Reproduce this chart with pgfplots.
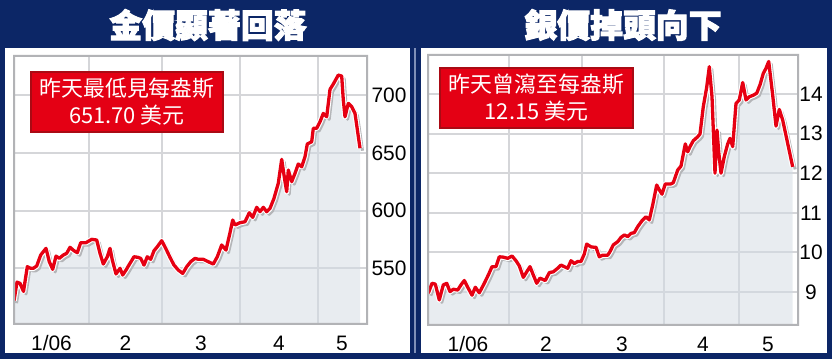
\documentclass[border=0pt]{standalone}
\usepackage{fontspec}
\setmainfont{Liberation Sans}
\newfontfamily\cjk{Noto Sans CJK TC}
\newfontfamily\cjkb{Noto Sans CJK TC}[BoldFeatures={FakeBold=3}]
\usepackage{pgfplots}
\usepackage{pgfplotstable}
\pgfplotsset{compat=1.18}
\definecolor{navy}{RGB}{12,38,102}
\definecolor{linered}{RGB}{230,0,18}
\definecolor{boxred}{RGB}{228,0,20}
\definecolor{boxdark}{RGB}{170,10,20}
\definecolor{framegray}{HTML}{B2B3B6}
\definecolor{gridgray}{HTML}{D5D6D9}
\definecolor{fillc}{RGB}{211,219,227}
\definecolor{shadowgray}{HTML}{B4B5B8}
\definecolor{divider}{HTML}{7F8FB8}

\pgfplotstableread{
x y
14 522
17 538
20 537
23.5 530
27.3 551.4
30.7 550.0
33.3 550.0
36.7 552.0
40.7 561.5
46 567.3
49.3 555.7
52.7 549.1
56 560.6
59.3 558.6
63.3 561.5
66.7 563.0
70 568.2
74 565.2
77.3 563.5
80.7 572.2
86 572.2
91.7 575.1
96.7 574.5
100 563.0
103.3 553.7
107.3 560.0
110 567.3
112.3 557.2
116 545.1
120 550.0
122.7 544.2
126 548.5
130 554.3
134 560.0
138 559.5
140.7 558.6
144 552.8
147.3 560.0
150.7 557.8
154 565.2
157.3 568.7
161.7 573.9
165.7 567.3
170 559.5
174 552.8
178.3 548.5
182.7 545.6
186.7 551.4
190.7 555.7
195 558.6
198.3 557.8
203.3 557.8
208.3 555.7
213.3 553.7
217.3 560.0
221.7 570.2
226 565.8
230 580.8
232.7 591.8
235 587.5
240 589.5
245 590.3
249.3 598.1
252.7 594.1
256.7 602.8
260 599.0
263.3 602.8
266.7 599.0
270 601.9
274 610.6
278.3 623.6
281.7 644.3
285 625.0
286.7 616.3
288.3 635.1
291.7 625.0
295 632.2
298.3 640.3
301.7 637.9
305 646.6
307.3 657.6
311.7 659.6
313.3 671.2
316.7 671.2
320 676.9
323.3 684.1
326.7 681.2
330 704.9
333.3 709.5
338.3 717.3
341.7 716.4
343.3 695.7
345 681.2
348.3 692.8
351.7 689.9
355 684.1
360 654
}\gold

\pgfplotstableread{
x y
428.3 8.97
432.0 9.22
435.3 9.20
439.3 8.80
443.3 9.18
446.7 9.22
450.0 9.01
453.3 9.07
457.7 9.05
461.0 9.18
464.3 9.29
467.7 9.12
472.0 8.92
475.3 9.12
479.3 8.98
484.3 9.22
488.7 9.45
492.0 9.64
496.0 9.64
499.3 9.89
503.3 9.88
507.7 9.85
512.0 9.91
516.0 9.79
519.3 9.66
523.3 9.37
526.7 9.51
530.0 9.64
533.3 9.43
536.7 9.22
540.0 9.35
545.3 9.29
549.3 9.49
553.3 9.51
557.7 9.60
561.0 9.68
564.3 9.64
567.7 9.60
571.0 9.79
574.3 9.72
577.7 9.77
581.0 9.77
584.3 9.96
586.7 10.21
591.0 10.14
594.3 10.13
596.0 10.13
599.3 9.89
602.7 9.93
607.7 9.93
610.0 10.02
613.3 10.19
617.7 10.27
621.0 10.38
624.3 10.44
627.7 10.40
631.0 10.48
634.3 10.50
637.7 10.65
642.0 10.80
646.0 10.90
649.3 10.82
652.7 11.20
656.7 11.70
659.3 11.58
662.0 11.47
665.3 11.73
671.0 11.73
673.3 11.76
677.7 12.08
681.0 12.18
685.3 12.74
687.7 12.54
690.0 12.67
693.3 12.82
697.7 12.92
700.0 12.99
703.3 13.68
706.7 14.17
709.3 14.69
712.0 13.93
713.7 12.84
715.0 12.00
717.0 13.09
718.7 12.54
721.0 12.00
724.3 12.42
727.7 12.74
730.0 12.88
732.7 12.67
736.0 13.76
739.3 13.85
742.7 14.29
746.0 13.85
749.3 13.93
753.3 13.97
756.7 14.02
760.0 14.23
763.3 14.52
766.0 14.65
768.7 14.82
772.7 13.97
776.0 13.19
779.3 13.61
782.7 13.34
787.7 12.75
792.7 12.16
}\silver

\pgfplotsset{
  panel/.style={
    scale only axis,
    axis line style={draw=none},
    tick style={draw=none},
    yticklabel pos=right,
    ticklabel style={font=\fontsize{21}{21}\selectfont, inner sep=0pt},
    xticklabel style={anchor=center, yshift=-19bp},
    /pgf/number format/assume math mode=true,
  },
  areafill/.style={draw=none, fill=fillc, fill opacity=0.5},
  shadowline/.style={draw=shadowgray, line width=3bp, line join=round},
  haloline/.style={draw=white, line width=5.5bp, line join=round},
  redline/.style={draw=linered, line width=3.3bp, line join=round},
}

\begin{document}
\begin{tikzpicture}
\fill[navy] (0bp,0bp) rectangle (832bp,359bp);
\fill[white] (5bp,6bp) rectangle (410bp,311bp);
\fill[white] (421bp,6bp) rectangle (827bp,311bp);
\fill[divider] (414.4bp,6bp) rectangle (415.6bp,311bp);

% grid (left) as thin filled bars
\foreach \gx in {89,162,240,318} {\fill[gridgray] (\gx bp-1bp,35bp) rectangle (\gx bp+1bp,303bp);}
\foreach \gy in {90.68,148.44,206.2,263.96} {\fill[gridgray] (14bp,\gy bp-1bp) rectangle (367bp,\gy bp+1bp);}
% grid (right)
\foreach \gx in {509,582,664,739} {\fill[gridgray] (\gx bp-1bp,34bp) rectangle (\gx bp+1bp,304bp);}
\foreach \gy in {66.99,106.59,146.19,185.79,225.39,264.99} {\fill[gridgray] (428bp,\gy bp-1bp) rectangle (798bp,\gy bp+1bp);}

% titles
\node[text=white, font=\cjkb\bfseries\fontsize{33}{33}\selectfont] at (208bp,334bp) {金價顯著回落};
\node[text=white, font=\cjkb\bfseries\fontsize{33}{33}\selectfont] at (623bp,334bp) {銀價掉頭向下};

\begin{axis}[panel, at={(14bp,35bp)}, anchor=south west, width=353bp, height=268bp,
  xmin=14, xmax=367, ymin=501.8, ymax=733.8,
  xtick={51.5,125.5,201,279,342}, xticklabels={1/06,2,3,4,5},
  ytick={550,600,650,700},
  yticklabel style={anchor=center, xshift=22bp}]
\addplot[areafill] table[x=x,y=y] {\gold} \closedcycle;
\addplot[shadowline] table[x expr=\thisrow{x}+2.5, y expr=\thisrow{y}-2.2] {\gold};
\addplot[haloline] table[x=x,y=y] {\gold};
\addplot[redline] table[x=x,y=y] {\gold};
\end{axis}
\fill[framegray, even odd rule] (13bp,34bp) rectangle (368bp,304bp) (15bp,36bp) rectangle (366bp,302bp);

\begin{axis}[panel, at={(428bp,34bp)}, anchor=south west, width=370bp, height=270bp,
  xmin=428, xmax=798, ymin=8.167, ymax=14.985,
  xtick={468,546,622,703,768}, xticklabels={1/06,2,3,4,5},
  ytick={9,10,11,12,13,14},
  yticklabel style={anchor=center, xshift=13bp}]
\addplot[areafill] table[x=x,y=y] {\silver} \closedcycle;
\addplot[shadowline] table[x expr=\thisrow{x}+2.5, y expr=\thisrow{y}-0.063] {\silver};
\addplot[haloline] table[x=x,y=y] {\silver};
\addplot[redline] table[x=x,y=y] {\silver};
\end{axis}
\fill[framegray, even odd rule] (427bp,33bp) rectangle (799bp,305bp) (429bp,35bp) rectangle (797bp,303bp);

% annotation boxes
\node[fill=boxred, draw=boxdark, line width=1.5bp, minimum width=192bp, minimum height=60bp,
  inner sep=0pt, text=white, align=center, font=\cjk\fontsize{22}{27}\selectfont] at (127bp,257bp)
  {昨天最低見每盎斯\\651.70 美元};
\node[fill=boxred, draw=boxdark, line width=1.5bp, minimum width=193bp, minimum height=60bp,
  inner sep=0pt, text=white, align=center, font=\cjk\fontsize{22}{27}\selectfont] at (536.5bp,261bp)
  {昨天曾瀉至每盎斯\\12.15 美元};
\end{tikzpicture}
\end{document}
